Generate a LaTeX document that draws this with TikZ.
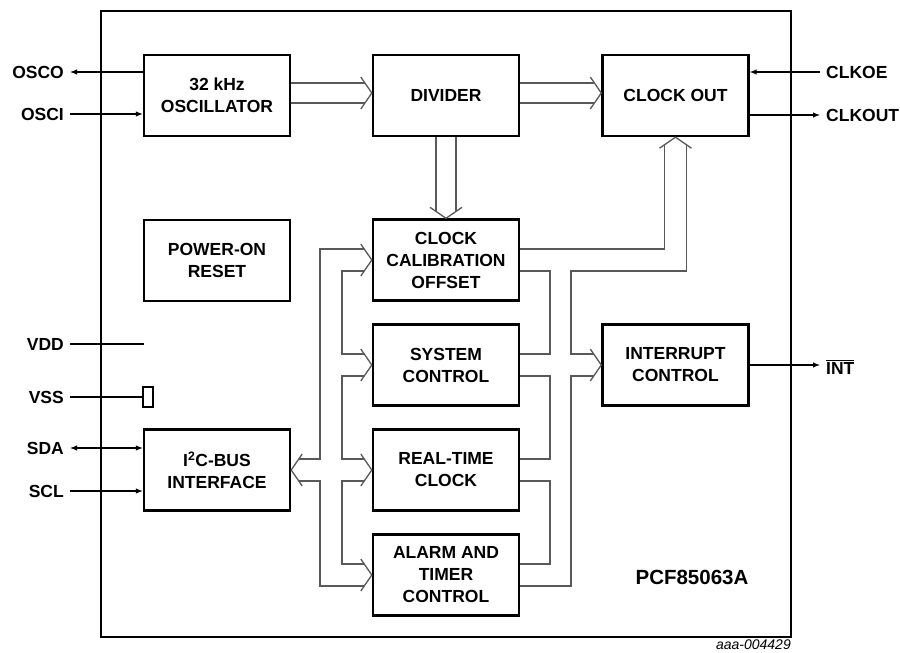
\documentclass[tikz,border=0pt]{standalone}
\usepackage{fontspec}
\setmainfont{Liberation Sans}
\usetikzlibrary{positioning,arrows.meta,calc}

\newcommand{\blockfont}{\fontsize{17.5}{22}\selectfont\bfseries}

\tikzset{
    block/.style={draw, line width=2.4pt, minimum width=146pt, minimum height=81pt,
        align=center, inner sep=0pt, font=\blockfont},
    bus/.style={draw, line width=1.3pt, black!65, line join=miter},
    pin/.style={draw, line width=1.1pt},
    pinlabel/.style={font=\blockfont, inner xsep=6pt, inner ysep=0pt},
    tip/.style={-{Latex[length=7pt,width=5.5pt]}},
}

\begin{document}
\begin{tikzpicture}[x=1pt, y=-1pt]

    \useasboundingbox (0,0) rectangle (900,653);

    % chip outline
    \path[draw, line width=2pt] (101,11) rectangle (791,637);

    % the blocks
    \node[block] (osc) at (217,95.5) {32 kHz\\OSCILLATOR};
    \node[block] (div) at (446,95.5) {DIVIDER};
    \node[block] (cko) at (675.5,95.5) {CLOCK OUT};
    \node[block] (por) at (217,260.5) {POWER-ON\\RESET};
    \node[block] (cco) at (446,260) {CLOCK\\CALIBRATION\\OFFSET};
    \node[block] (sys) at (446,365) {SYSTEM\\CONTROL};
    \node[block] (rtc) at (446,470) {REAL-TIME\\CLOCK};
    \node[block] (alm) at (446,575) {ALARM AND\\TIMER\\CONTROL};
    \node[block] (i2c) at (217,470) {I\textsuperscript{2}C-BUS\\INTERFACE};
    \node[block] (irq) at (675.5,365) {INTERRUPT\\CONTROL};

    \node[font=\fontsize{20.5}{24}\selectfont\bfseries] (part) at (692,577) {PCF85063A};
    \node[font=\fontsize{14}{16}\selectfont\itshape, anchor=north east, inner sep=0pt]
        (code) at (791,640) {aaa-004429};

    % pins on the left
    \node[pinlabel, anchor=east] (osco) at (70,72) {OSCO};
    \node[pinlabel, anchor=east] (osci) at (70,114) {OSCI};
    \node[pinlabel, anchor=east] (vdd) at (70,344) {VDD};
    \node[pinlabel, anchor=east] (vss) at (70,397) {VSS};
    \node[pinlabel, anchor=east] (sda) at (70,448) {SDA};
    \node[pinlabel, anchor=east] (scl) at (70,491) {SCL};
    \coordinate (vddend) at (144,344);
    \node[draw, line width=1.1pt, minimum width=10pt, minimum height=20pt, inner sep=0pt]
        (vssbox) at (148,397) {};

    \path[pin, tip] (osc.west |- osco.east) -- (osco.east);
    \path[pin, tip] (osci.east) -- (osci.east -| osc.west);
    \path[pin] (vdd.east) -- (vddend);
    \path[pin] (vss.east) -- (vssbox.west);
    \path[pin, {Latex[length=7pt,width=5.5pt]}-{Latex[length=7pt,width=5.5pt]}]
        (sda.east) -- (sda.east -| i2c.west);
    \path[pin, tip] (scl.east) -- (scl.east -| i2c.west);

    % pins on the right
    \node[pinlabel, anchor=west] (clkoe) at (820,72) {CLKOE};
    \node[pinlabel, anchor=west] (clkout) at (820,115) {CLKOUT};
    \node[pinlabel, anchor=west] (intpin) at (820,367) {$\overline{\mbox{INT}}$};

    \path[pin, tip] (clkoe.west) -- (clkoe.west -| cko.east);
    \path[pin, tip] (cko.east |- clkout.west) -- (clkout.west);
    \path[pin, tip] (irq.east) -- (irq.east -| intpin.west);

    % open bus arrow heads
    \foreach \blk/\y in {div/93, cko/93, cco/260, sys/365, rtc/470, alm/575, irq/365} {
        \path[bus] (\blk.west |- 0,\y) ++(-11,-16) -- (\blk.west |- 0,\y) -- ++(-11,16);
    }
    \path[bus] (i2c.east) ++(11,-16) -- (i2c.east) -- ++(11,16);
    \path[bus] (cco.north) ++(-16,-11) -- (cco.north) -- ++(16,-11);
    \path[bus] (cko.south) ++(-16,11) -- (cko.south) -- ++(16,11);

    % buses along the top
    \foreach \y in {83,103} {
        \path[bus] (osc.east |- 0,\y) -- ($(div.west |- 0,\y)+(-6.9,0)$);
        \path[bus] (div.east |- 0,\y) -- ($(cko.west |- 0,\y)+(-6.9,0)$);
    }
    \foreach \x in {-10,10} {
        \path[bus] ($(div.south)+(\x,0)$) -- ($(cco.north)+(\x,-6.9)$);
    }

    % bus from the interface
    \path[bus] ($(i2c.east)+(7.6,-11)$) -- (320,459) -- (320,249) -- ($(cco.west)+(-7.6,-11)$);
    \path[bus] ($(cco.west)+(-7.6,11)$) -- (342,271) -- (342,354) -- ($(sys.west)+(-7.6,-11)$);
    \path[bus] ($(sys.west)+(-7.6,11)$) -- (342,376) -- (342,459) -- ($(rtc.west)+(-7.6,-11)$);
    \path[bus] ($(rtc.west)+(-7.6,11)$) -- (342,481) -- (342,564) -- ($(alm.west)+(-7.6,-11)$);
    \path[bus] ($(i2c.east)+(7.6,11)$) -- (320,481) -- (320,586) -- ($(alm.west)+(-7.6,11)$);

    % bus to clock out and interrupt
    \path[bus] ($(cco.east)+(0,-11)$) -- (664.5,249) -- ($(cko.south)+(-11,7.6)$);
    \path[bus] ($(cko.south)+(11,7.6)$) -- (686.5,271) -- (571,271) -- (571,354)
        -- ($(irq.west)+(-7.6,-11)$);
    \path[bus] ($(irq.west)+(-7.6,11)$) -- (571,376) -- (571,586) -- ($(alm.east)+(0,11)$);
    \path[bus] ($(cco.east)+(0,11)$) -- (550,271) -- (550,354) -- ($(sys.east)+(0,-11)$);
    \path[bus] ($(sys.east)+(0,11)$) -- (550,376) -- (550,459) -- ($(rtc.east)+(0,-11)$);
    \path[bus] ($(rtc.east)+(0,11)$) -- (550,481) -- (550,564) -- ($(alm.east)+(0,-11)$);

\end{tikzpicture}
\end{document}
